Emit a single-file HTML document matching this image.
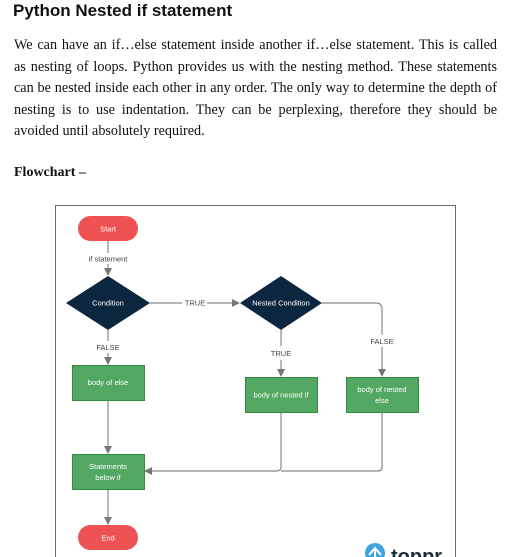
<!DOCTYPE html>
<html><head><style>
body{margin:0;width:510px;height:557px;overflow:hidden;background:#fff;position:relative}
h1{position:absolute;left:13px;top:0;margin:0;font:bold 17px "Liberation Sans",sans-serif;color:#111;line-height:22px}
.p{position:absolute;left:14px;top:35px;width:483px;margin:0;font:14.2px/21.5px "Liberation Serif",serif;color:#111}
.p span{display:block;white-space:nowrap;text-align:justify;text-align-last:justify}
.p span.l{text-align-last:left}
.fc{position:absolute;left:14px;top:165px;font:bold 14px "Liberation Serif",serif;color:#111}
svg{position:absolute;left:0;top:0}
</style></head><body>
<h1>Python Nested if statement</h1>
<div class="p"><span>We can have an if…else statement inside another if…else statement. This is called</span><span>as nesting of loops. Python provides us with the nesting method. These statements</span><span>can be nested inside each other in any order. The only way to determine the depth of</span><span>nesting is to use indentation. They can be perplexing, therefore they should be</span><span class="l">avoided until absolutely required.</span></div>
<div class="fc">Flowchart –</div>
<svg width="510" height="557" font-family="Liberation Sans,sans-serif" font-size="7.5">
<defs><marker id="a" markerWidth="8" markerHeight="8" refX="7" refY="4" orient="auto" markerUnits="userSpaceOnUse"><path d="M0,0L8,4L0,8z" fill="#777"/></marker></defs>
<rect x="55.5" y="205.5" width="400" height="360" fill="#fff" stroke="#666"/>
<g stroke="#888" stroke-width="1.2" fill="none">
<path d="M108 241V253"/><path d="M108 264V275" marker-end="url(#a)"/>
<path d="M150 303H182"/><path d="M207 303H239" marker-end="url(#a)"/>
<path d="M108 330V341"/><path d="M108 353V364" marker-end="url(#a)"/>
<path d="M281 330V346"/><path d="M281 360V376" marker-end="url(#a)"/>
<path d="M322 303H376Q382 303 382 309V335"/><path d="M382 347V376" marker-end="url(#a)"/>
<path d="M108 401V453" marker-end="url(#a)"/>
<path d="M281 413V467Q281 471 277 471H145" marker-end="url(#a)"/>
<path d="M382 413V467Q382 471 378 471H281"/>
<path d="M108 490V524" marker-end="url(#a)"/>
</g>
<rect x="78" y="216" width="60" height="25" rx="12.5" fill="#ef5253"/>
<text x="108" y="231.5" fill="#fff" text-anchor="middle">Start</text>
<text x="108" y="261.5" fill="#444" text-anchor="middle">if statement</text>
<path d="M66 303L108 276L150 303L108 330z" fill="#0d2640"/>
<text x="108" y="305.5" fill="#fff" text-anchor="middle">Condition</text>
<text x="195" y="305.5" fill="#444" text-anchor="middle">TRUE</text>
<path d="M240 303L281 276L322 303L281 330z" fill="#0d2640"/>
<text x="281" y="305.5" fill="#fff" text-anchor="middle">Nested Condition</text>
<text x="108" y="350" fill="#444" text-anchor="middle">FALSE</text>
<text x="281" y="356" fill="#444" text-anchor="middle">TRUE</text>
<text x="382" y="344" fill="#444" text-anchor="middle">FALSE</text>
<g fill="#52a862" stroke="#2f8a3e">
<rect x="72.5" y="365.5" width="72" height="35"/>
<rect x="245.5" y="377.5" width="72" height="35"/>
<rect x="346.5" y="377.5" width="72" height="35"/>
<rect x="72.5" y="454.5" width="72" height="35"/>
</g>
<g fill="#fff" text-anchor="middle">
<text x="108" y="385">body of else</text>
<text x="281" y="397.5">body of nested if</text>
<text x="382" y="392">body of nested</text><text x="382" y="403">else</text>
<text x="108" y="469">Statements</text><text x="108" y="480">below if</text>
</g>
<rect x="78" y="525" width="60" height="25" rx="12.5" fill="#ef5253"/>
<text x="108" y="540.5" fill="#fff" text-anchor="middle">End</text>
<circle cx="375" cy="553" r="10" fill="#3fa3e0"/>
<path d="M369 555L375 548L381 555M375 549V560" stroke="#fff" stroke-width="2" fill="none"/>
<text x="391" y="563" font-size="20" font-weight="bold" fill="#1a2b3c">toppr</text>
</svg>
</body></html>
